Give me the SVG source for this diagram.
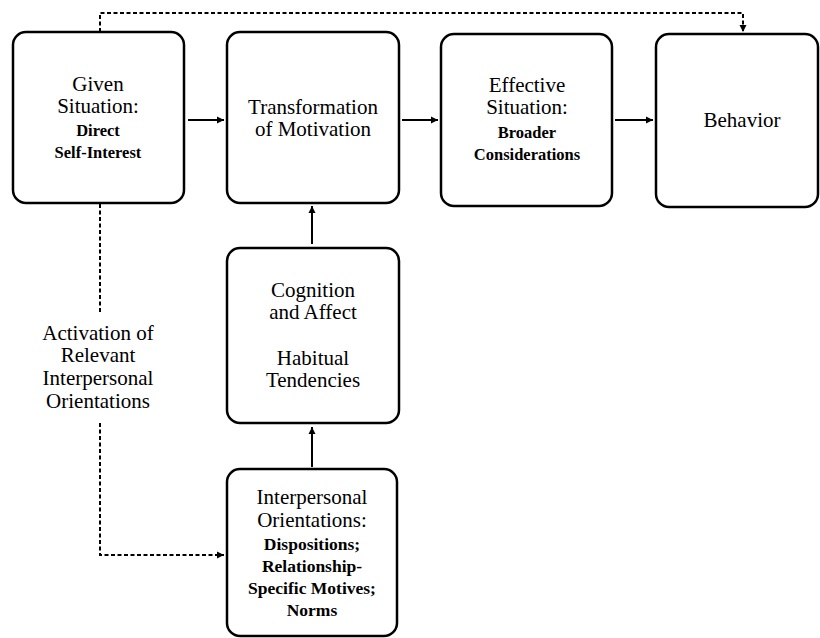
<svg xmlns="http://www.w3.org/2000/svg" width="820" height="638" viewBox="0 0 820 638">
<style>
.box{fill:#fff;stroke:#000;stroke-width:2.5}
.t{font-family:"Liberation Serif","DejaVu Serif","Times New Roman",serif;font-size:21px;fill:#000;text-anchor:middle}
.s{font-family:"Liberation Serif","DejaVu Serif","Times New Roman",serif;font-size:16.5px;font-weight:bold;fill:#000;text-anchor:middle}
.s2{font-family:"Liberation Serif","DejaVu Serif","Times New Roman",serif;font-size:17.5px;font-weight:bold;fill:#000;text-anchor:middle}
.ln{fill:none;stroke:#000;stroke-width:2}
.dt{fill:none;stroke:#000;stroke-width:2;stroke-dasharray:4 2.5}
</style>
<defs>
<marker id="ah" markerWidth="8" markerHeight="8" refX="7" refY="4" orient="auto" markerUnits="userSpaceOnUse">
<path d="M0,0.5 L7,4 L0,7.5 Z" fill="#000"/>
</marker>
</defs>
<rect width="820" height="638" fill="#fff"/>
<g id="connectors">
<path class="ln" d="M188,120 H224" marker-end="url(#ah)"/>
<path class="ln" d="M402,120 H438" marker-end="url(#ah)"/>
<path class="ln" d="M615,120 H653" marker-end="url(#ah)"/>
<path class="ln" d="M312,244 V206" marker-end="url(#ah)"/>
<path class="ln" d="M312,467 V427" marker-end="url(#ah)"/>
<path class="dt" d="M100,32 V13 H743 V32" marker-end="url(#ah)"/>
<path class="dt" d="M100,204 V313"/>
<path class="dt" d="M100,423 V555 H224" marker-end="url(#ah)"/>
</g>
<g id="given">
<rect class="box" x="13" y="32" width="171" height="171" rx="13"/>
<text class="t" x="98" y="91">Given</text>
<text class="t" x="98" y="113">Situation:</text>
<text class="s" x="98" y="136">Direct</text>
<text class="s" x="98" y="158">Self-Interest</text>
</g>
<g id="transformation">
<rect class="box" x="227" y="32" width="172" height="171" rx="13"/>
<text class="t" x="313" y="114">Transformation</text>
<text class="t" x="313" y="136">of Motivation</text>
</g>
<g id="effective">
<rect class="box" x="441" y="34" width="171" height="172" rx="13"/>
<text class="t" x="527" y="92">Effective</text>
<text class="t" x="527" y="114">Situation:</text>
<text class="s" x="527" y="138">Broader</text>
<text class="s" x="527" y="160">Considerations</text>
</g>
<g id="behavior">
<rect class="box" x="656" y="34" width="162" height="173" rx="13"/>
<text class="t" x="742" y="127">Behavior</text>
</g>
<g id="cognition">
<rect class="box" x="227" y="248" width="172" height="175" rx="13"/>
<text class="t" x="313" y="297">Cognition</text>
<text class="t" x="313" y="319">and Affect</text>
<text class="t" x="313" y="365">Habitual</text>
<text class="t" x="313" y="387">Tendencies</text>
</g>
<g id="activation-label">
<text class="t" x="98" y="340">Activation of</text>
<text class="t" x="98" y="362">Relevant</text>
<text class="t" x="98" y="385">Interpersonal</text>
<text class="t" x="98" y="408">Orientations</text>
</g>
<g id="interpersonal">
<rect class="box" x="227" y="469" width="170" height="167" rx="13"/>
<text class="t" x="312" y="504">Interpersonal</text>
<text class="t" x="312" y="527">Orientations:</text>
<text class="s2" x="312" y="550">Dispositions;</text>
<text class="s2" x="312" y="572">Relationship-</text>
<text class="s2" x="312" y="594">Specific Motives;</text>
<text class="s2" x="312" y="616">Norms</text>
</g>
</svg>
